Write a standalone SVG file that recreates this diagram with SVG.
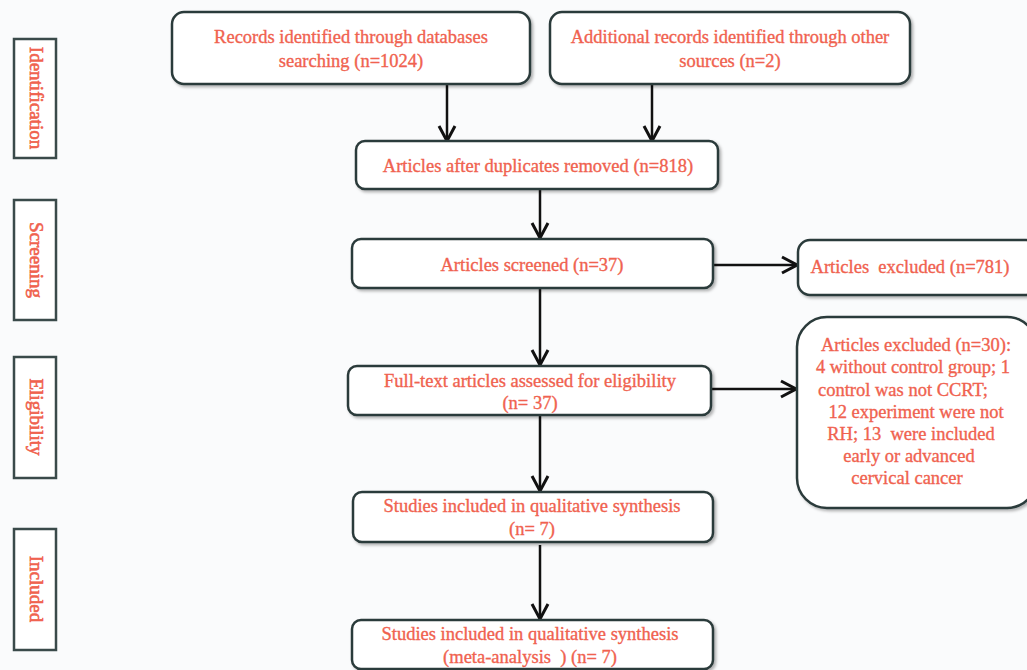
<svg xmlns="http://www.w3.org/2000/svg" width="1027" height="670" viewBox="0 0 1027 670">
<defs>
<marker id="ah" viewBox="0 0 20 20" refX="18" refY="10" markerWidth="20" markerHeight="20" markerUnits="userSpaceOnUse" orient="auto">
<path d="M3,2 L18,10 L3,18" fill="none" stroke="#111" stroke-width="3"/>
</marker>
<filter id="sh" x="-5%" y="-10%" width="115%" height="130%">
<feDropShadow dx="2" dy="2" stdDeviation="1.5" flood-color="#000" flood-opacity="0.3"/>
</filter>
</defs>
<style>
.box{fill:#fff;stroke:#2c3a3a;stroke-width:2.5;filter:url(#sh)}
.side{fill:#fff;stroke:#3a4a4a;stroke-width:2.5}
.t{font-family:"Liberation Serif","Times New Roman",serif;font-size:18.5px;fill:#f0624f;stroke:#f0624f;stroke-width:0.35;text-anchor:middle}
.s{font-size:19px;stroke-width:0.6}
.c{stroke:#111;stroke-width:2.5;fill:none;marker-end:url(#ah)}
</style>
<rect width="1027" height="670" fill="#fafbfc"/>
<g id="side-identification"><rect class="side" x="14" y="39" width="42" height="119"/><text class="t s" transform="translate(35,98) rotate(90)" dy="5">Identification</text></g>
<g id="side-screening"><rect class="side" x="14" y="200" width="42" height="120"/><text class="t s" transform="translate(35,260) rotate(90)" dy="5">Screening</text></g>
<g id="side-eligibility"><rect class="side" x="14" y="357" width="42" height="121"/><text class="t s" transform="translate(35,417) rotate(90)" dy="5">Eligibility</text></g>
<g id="side-included"><rect class="side" x="14" y="529" width="42" height="121"/><text class="t s" transform="translate(35,589) rotate(90)" dy="5">Included</text></g>
<g id="connectors">
<line class="c" x1="447" y1="84" x2="447" y2="141"/>
<line class="c" x1="652" y1="84" x2="652" y2="141"/>
<line class="c" x1="540" y1="189" x2="540" y2="238"/>
<line class="c" x1="713" y1="265" x2="797" y2="265"/>
<line class="c" x1="540" y1="288" x2="540" y2="365"/>
<line class="c" x1="711" y1="389" x2="796" y2="389"/>
<line class="c" x1="540" y1="415" x2="540" y2="491"/>
<line class="c" x1="540" y1="545" x2="540" y2="619"/>
</g>
<g id="records-db"><rect class="box" x="172" y="12" width="358" height="72" rx="12"/><text class="t" x="351" y="43">Records identified through databases</text><text class="t" x="351" y="67">searching (n=1024)</text></g>
<g id="records-other"><rect class="box" x="550" y="12" width="360" height="72" rx="12"/><text class="t" x="730" y="43">Additional records identified through other</text><text class="t" x="730" y="67">sources (n=2)</text></g>
<g id="dedup"><rect class="box" x="356" y="141" width="362" height="48" rx="9"/><text class="t" x="538" y="172">Articles after duplicates removed (n=818)</text></g>
<g id="screened"><rect class="box" x="352" y="239" width="361" height="49" rx="9"/><text class="t" x="532" y="271">Articles screened (n=37)</text></g>
<g id="excluded-781"><rect class="box" x="798" y="240" width="240" height="55" rx="12"/><text class="t" x="910" y="273" xml:space="preserve">Articles  excluded (n=781)</text></g>
<g id="fulltext"><rect class="box" x="348" y="366" width="363" height="49" rx="9"/><text class="t" x="530" y="387">Full-text articles assessed for eligibility</text><text class="t" x="530" y="409">(n= 37)</text></g>
<g id="excluded-30"><rect class="box" x="797" y="317" width="240" height="191" rx="30"/>
<text class="t" x="916" y="351">Articles excluded (n=30):</text>
<text class="t" x="913" y="373">4 without control group; 1</text>
<text class="t" x="903" y="396">control was not CCRT;</text>
<text class="t" x="916" y="418">12 experiment were not</text>
<text class="t" x="911" y="440" xml:space="preserve">RH; 13  were included</text>
<text class="t" x="909" y="462">early or advanced</text>
<text class="t" x="907" y="484">cervical cancer</text></g>
<g id="qualitative"><rect class="box" x="353" y="492" width="360" height="50" rx="9"/><text class="t" x="532" y="512">Studies included in qualitative synthesis</text><text class="t" x="532" y="535">(n= 7)</text></g>
<g id="meta"><rect class="box" x="352" y="620" width="361" height="49" rx="9"/><text class="t" x="530" y="640">Studies included in qualitative synthesis</text><text class="t" x="530" y="663" xml:space="preserve">(meta-analysis  ) (n= 7)</text></g>
</svg>
